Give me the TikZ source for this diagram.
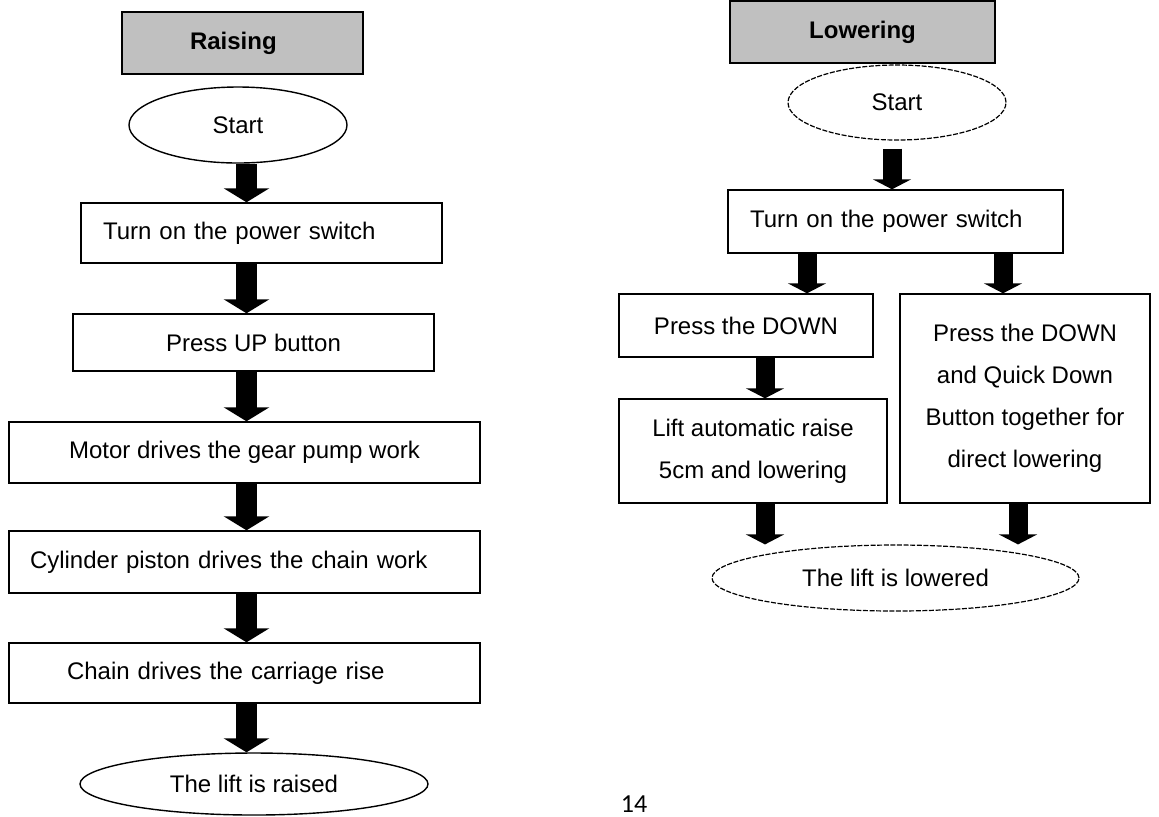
\documentclass[tikz,border=0pt]{standalone}
\usepackage{fontspec}
\setmainfont{Liberation Sans}
\newfontfamily\pagenofont{Carlito}
\usetikzlibrary{shapes.geometric,arrows.meta}
\definecolor{headgray}{HTML}{C0C0C0}

\begin{document}
\begin{tikzpicture}[x=0.5pt,y=-0.5pt,
    font=\fontsize{12}{21}\selectfont,
    stepbox/.style={draw,line width=0.7pt,rectangle,align=center,inner sep=0pt},
    headbox/.style={stepbox,fill=headgray,font=\fontsize{12}{14}\selectfont\bfseries},
    endshape/.style={draw,line width=0.7pt,ellipse,inner sep=0pt},
    endshapeR/.style={endshape,line width=0.6pt,dash pattern=on 2.5pt off 0.8pt},
    bigarrow/.style={line width=10.5pt,-{Triangle[width=22.5pt,length=7pt]}},
    bigarrowR/.style={line width=9.5pt,-{Triangle[width=19pt,length=5pt]}}]

\useasboundingbox (0,0) rectangle (1159,816);

% Raising
\node[headbox,minimum height=31pt,text width=52.5pt,inner xsep=34pt,align=left] (raiseHead) at (242.5,43) {Raising};
\node[endshape,minimum width=109pt,minimum height=38pt] (raiseStart) at (238,125) {Start};
\node[stepbox,minimum height=30pt,text width=158.5pt,inner xsep=11pt,align=left] (raisePower) at (261.5,233) {Turn on the power switch};
\node[stepbox,minimum width=180.5pt,minimum height=28.5pt] (raiseUp) at (253.5,342.5) {Press UP button};
\node[stepbox,minimum width=235.5pt,minimum height=30.5pt] (raiseMotor) at (244.5,452.5) {Motor drives the gear pump work};
\node[stepbox,minimum height=31pt,text width=214.5pt,inner xsep=10.5pt,align=left] (raiseCyl) at (244.5,562) {Cylinder piston drives the chain work};
\node[stepbox,minimum height=30pt,text width=177.5pt,inner xsep=29pt,align=left] (raiseChain) at (244.5,673) {Chain drives the carriage rise};
\node[endshape,minimum width=174pt,minimum height=31pt] (raiseEnd) at (254,784) {The lift is raised};

\coordinate (raiseAxis) at (246.5,0);
\foreach \a/\b in {raiseStart/raisePower,raisePower/raiseUp,raiseUp/raiseMotor,raiseMotor/raiseCyl,raiseCyl/raiseChain,raiseChain/raiseEnd}
    \draw[bigarrow] (\a.south -| raiseAxis) -- (\b.north -| raiseAxis);

% Lowering
\node[headbox,minimum width=132.5pt,minimum height=31pt] (lowerHead) at (862.5,32) {Lowering};
\node[endshapeR,minimum width=109pt,minimum height=37.5pt] (lowerStart) at (897,102.5) {Start};
\node[stepbox,minimum height=31.5pt,text width=145.5pt,inner xsep=11pt,align=left] (lowerPower) at (895.5,221.5) {Turn on the power switch};
\node[stepbox,minimum width=127pt,minimum height=31.5pt] (lowerDown) at (746,325.5) {Press the DOWN};
\node[stepbox,minimum width=134pt,minimum height=52pt] (lowerAuto) at (753,451) {Lift automatic raise\\5cm and lowering};
\node[stepbox,minimum width=125pt,minimum height=104.5pt] (lowerQuick) at (1025,398.5) {Press the DOWN\\and Quick Down\\Button together for\\direct lowering};
\node[endshapeR,minimum width=183.5pt,minimum height=33pt] (lowerEnd) at (895.5,578) {The lift is lowered};

\coordinate (lowerAxis) at (892,0);
\coordinate (downAxis) at (807,0);
\coordinate (quickAxis) at (1003,0);
\coordinate (autoAxis) at (765,0);
\coordinate (quickEndAxis) at (1018,0);
\draw[bigarrowR,shorten <=4pt] (lowerStart.south -| lowerAxis) -- (lowerPower.north -| lowerAxis);
\draw[bigarrowR] (lowerPower.south -| downAxis) -- (lowerDown.north -| downAxis);
\draw[bigarrowR] (lowerPower.south -| quickAxis) -- (lowerQuick.north -| quickAxis);
\draw[bigarrowR] (lowerDown.south -| autoAxis) -- (lowerAuto.north -| autoAxis);
\draw[bigarrowR] (lowerAuto.south -| autoAxis) -- (lowerEnd.north -| autoAxis);
\draw[bigarrowR] (lowerQuick.south -| quickEndAxis) -- (lowerEnd.north -| quickEndAxis);

% Page number
\node[font=\pagenofont\fontsize{13}{15}\selectfont] (pageNo) at (634,804) {14};

\end{tikzpicture}
\end{document}
